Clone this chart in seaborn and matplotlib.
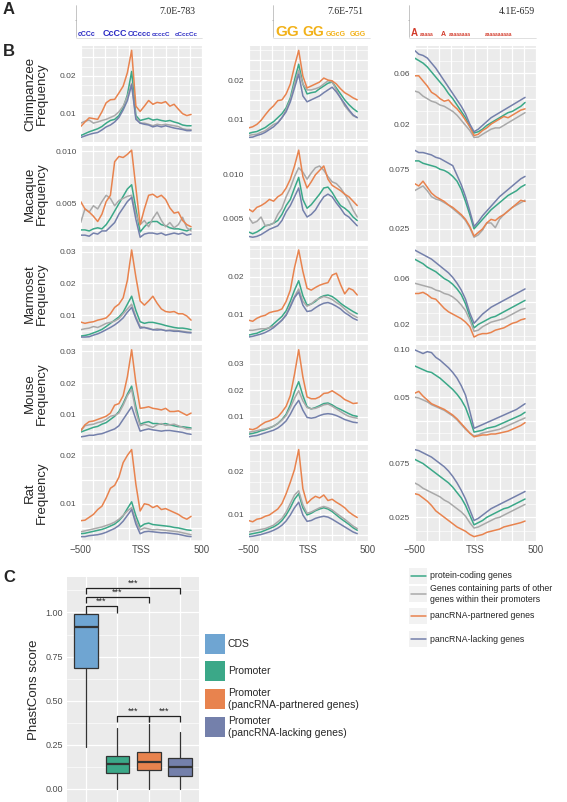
import numpy as np
import pandas as pd
import matplotlib
matplotlib.use("Agg")
import matplotlib.pyplot as plt
from matplotlib.patches import Rectangle
import seaborn as sns

sns.set_style("darkgrid", {"axes.facecolor": "#EBEBEB", "grid.color": "white"})
plt.rcParams["font.family"] = ["Liberation Sans", "DejaVu Sans"]

W, H = 567, 802

# positions of the profile points (bp from TSS)
pos = [-500, -465, -430, -395, -360, -325, -290, -255, -220, -185, -150, -115, -80, -45,
       -10, 25, 60, 95, 130, 165, 200, 235, 270, 305, 340, 375, 410]

species = ["Chimpanzee", "Macaque", "Marmoset", "Mouse", "Rat"]
groups = ["protein-coding genes",
          "Genes containing parts of other\ngenes within their promoters",
          "pancRNA-partnered genes",
          "pancRNA-lacking genes"]
line_colors = ["#3BA888", "#A9A9A9", "#E8834E", "#7480AB"]
e_values = ["7.0E-783", "7.6E-751", "4.1E-659"]

# ---- motif 1 (C-rich) ----
chimp1_coding = [0.0042, 0.0047, 0.0052, 0.0056, 0.0060, 0.0066, 0.0075, 0.0082, 0.0085, 0.0095, 0.0115, 0.0150, 0.0212, 0.0095,
                 0.0082, 0.0085, 0.0088, 0.0083, 0.0085, 0.0082, 0.0080, 0.0082, 0.0078, 0.0075, 0.0070, 0.0068, 0.0068]
chimp1_other = [0.0075, 0.0080, 0.0083, 0.0075, 0.0078, 0.0082, 0.0085, 0.0090, 0.0095, 0.0105, 0.0120, 0.0145, 0.0180, 0.0090,
                0.0075, 0.0075, 0.0072, 0.0068, 0.0072, 0.0070, 0.0072, 0.0070, 0.0068, 0.0066, 0.0060, 0.0058, 0.0058]
chimp1_partnered = [0.0066, 0.0078, 0.0089, 0.0087, 0.0085, 0.0105, 0.0129, 0.0137, 0.0138, 0.0155, 0.0173, 0.0209, 0.0268, 0.0120,
                    0.0106, 0.0120, 0.0135, 0.0125, 0.0130, 0.0128, 0.0132, 0.0120, 0.0125, 0.0112, 0.0100, 0.0095, 0.0098]
chimp1_lacking = [0.0037, 0.0041, 0.0045, 0.0048, 0.0050, 0.0057, 0.0065, 0.0070, 0.0078, 0.0090, 0.0110, 0.0135, 0.0177, 0.0085,
                  0.0075, 0.0072, 0.0070, 0.0065, 0.0068, 0.0065, 0.0068, 0.0065, 0.0062, 0.0060, 0.0058, 0.0055, 0.0055]

macaque1_coding = [0.0025, 0.0025, 0.0024, 0.0026, 0.0027, 0.0026, 0.0030, 0.0036, 0.0043, 0.0050, 0.0057, 0.0064, 0.0068, 0.0045,
                   0.0023, 0.0028, 0.0032, 0.0033, 0.0033, 0.0030, 0.0029, 0.0027, 0.0026, 0.0026, 0.0025, 0.0024, 0.0026]
macaque1_other = [0.0032, 0.0045, 0.0042, 0.0048, 0.0045, 0.0052, 0.0058, 0.0055, 0.0048, 0.0053, 0.0055, 0.0057, 0.0058, 0.0040,
                  0.0030, 0.0034, 0.0028, 0.0036, 0.0042, 0.0034, 0.0028, 0.0032, 0.0027, 0.0030, 0.0037, 0.0027, 0.0024]
macaque1_partnered = [0.0052, 0.0045, 0.0042, 0.0038, 0.0033, 0.0040, 0.0052, 0.0058, 0.0090, 0.0095, 0.0094, 0.0097, 0.0101, 0.0065,
                      0.0030, 0.0045, 0.0058, 0.0059, 0.0056, 0.0058, 0.0054, 0.0046, 0.0041, 0.0042, 0.0034, 0.0030, 0.0028]
macaque1_lacking = [0.0020, 0.0020, 0.0019, 0.0022, 0.0021, 0.0024, 0.0024, 0.0028, 0.0032, 0.0040, 0.0046, 0.0052, 0.0056, 0.0035,
                    0.0018, 0.0021, 0.0022, 0.0022, 0.0021, 0.0022, 0.0020, 0.0021, 0.0022, 0.0021, 0.0022, 0.0020, 0.0021]

marmoset1_coding = [0.0035, 0.0037, 0.0040, 0.0045, 0.0050, 0.0056, 0.0065, 0.0075, 0.0085, 0.0095, 0.0110, 0.0135, 0.0160, 0.0115,
                    0.0080, 0.0075, 0.0078, 0.0078, 0.0075, 0.0072, 0.0068, 0.0065, 0.0062, 0.0060, 0.0060, 0.0058, 0.0055]
marmoset1_other = [0.0055, 0.0058, 0.0060, 0.0065, 0.0062, 0.0068, 0.0075, 0.0078, 0.0082, 0.0090, 0.0105, 0.0120, 0.0135, 0.0095,
                   0.0065, 0.0062, 0.0060, 0.0055, 0.0058, 0.0056, 0.0052, 0.0054, 0.0053, 0.0052, 0.0050, 0.0048, 0.0047]
marmoset1_partnered = [0.0079, 0.0075, 0.0078, 0.0080, 0.0085, 0.0088, 0.0092, 0.0105, 0.0125, 0.0135, 0.0155, 0.0210, 0.0305, 0.0220,
                       0.0145, 0.0132, 0.0145, 0.0160, 0.0138, 0.0120, 0.0112, 0.0110, 0.0112, 0.0105, 0.0105, 0.0098, 0.0085]
marmoset1_lacking = [0.0032, 0.0032, 0.0033, 0.0038, 0.0042, 0.0048, 0.0055, 0.0062, 0.0070, 0.0080, 0.0092, 0.0110, 0.0125, 0.0090,
                     0.0060, 0.0062, 0.0058, 0.0055, 0.0054, 0.0055, 0.0052, 0.0052, 0.0050, 0.0050, 0.0048, 0.0046, 0.0045]

mouse1_coding = [0.0045, 0.0050, 0.0055, 0.0060, 0.0063, 0.0070, 0.0075, 0.0085, 0.0095, 0.0110, 0.0135, 0.0165, 0.0190, 0.0125,
                 0.0070, 0.0075, 0.0078, 0.0072, 0.0072, 0.0070, 0.0072, 0.0068, 0.0065, 0.0062, 0.0062, 0.0060, 0.0058]
mouse1_other = [0.0048, 0.0065, 0.0068, 0.0070, 0.0075, 0.0078, 0.0085, 0.0095, 0.0098, 0.0105, 0.0130, 0.0160, 0.0180, 0.0110,
                0.0065, 0.0070, 0.0065, 0.0060, 0.0068, 0.0072, 0.0066, 0.0068, 0.0070, 0.0065, 0.0060, 0.0055, 0.0055]
mouse1_partnered = [0.0050, 0.0068, 0.0078, 0.0080, 0.0085, 0.0090, 0.0095, 0.0105, 0.0130, 0.0135, 0.0160, 0.0220, 0.0305, 0.0200,
                    0.0120, 0.0122, 0.0125, 0.0120, 0.0118, 0.0115, 0.0120, 0.0110, 0.0110, 0.0112, 0.0105, 0.0098, 0.0105]
mouse1_lacking = [0.0030, 0.0032, 0.0035, 0.0035, 0.0038, 0.0040, 0.0045, 0.0050, 0.0055, 0.0065, 0.0085, 0.0105, 0.0125, 0.0085,
                  0.0048, 0.0052, 0.0055, 0.0052, 0.0050, 0.0048, 0.0050, 0.0050, 0.0048, 0.0046, 0.0044, 0.0040, 0.0038]

rat1_coding = [0.0038, 0.0039, 0.0041, 0.0043, 0.0045, 0.0047, 0.0050, 0.0054, 0.0058, 0.0065, 0.0075, 0.0090, 0.0104, 0.0075,
               0.0052, 0.0058, 0.0060, 0.0057, 0.0056, 0.0055, 0.0054, 0.0053, 0.0051, 0.0050, 0.0048, 0.0046, 0.0045]
rat1_other = [0.0042, 0.0044, 0.0046, 0.0048, 0.0050, 0.0052, 0.0055, 0.0058, 0.0062, 0.0068, 0.0076, 0.0085, 0.0092, 0.0065,
              0.0046, 0.0050, 0.0048, 0.0046, 0.0047, 0.0046, 0.0045, 0.0044, 0.0043, 0.0042, 0.0040, 0.0038, 0.0036]
rat1_partnered = [0.0065, 0.0066, 0.0072, 0.0078, 0.0088, 0.0095, 0.0112, 0.0132, 0.0138, 0.0155, 0.0185, 0.0200, 0.0212, 0.0140,
                  0.0085, 0.0100, 0.0098, 0.0092, 0.0096, 0.0088, 0.0090, 0.0086, 0.0082, 0.0078, 0.0072, 0.0068, 0.0074]
rat1_lacking = [0.0032, 0.0032, 0.0034, 0.0035, 0.0036, 0.0038, 0.0041, 0.0045, 0.0049, 0.0055, 0.0064, 0.0076, 0.0088, 0.0058,
                0.0038, 0.0042, 0.0043, 0.0042, 0.0041, 0.0040, 0.0040, 0.0039, 0.0038, 0.0037, 0.0035, 0.0033, 0.0032]

# ---- motif 2 (G-rich) ----
chimp2_coding = [0.0065, 0.0068, 0.0070, 0.0075, 0.0080, 0.0088, 0.0095, 0.0105, 0.0115, 0.0130, 0.0155, 0.0200, 0.0240, 0.0190,
                 0.0165, 0.0168, 0.0170, 0.0178, 0.0185, 0.0192, 0.0195, 0.0180, 0.0165, 0.0150, 0.0138, 0.0128, 0.0120]
chimp2_other = [0.0060, 0.0062, 0.0063, 0.0068, 0.0072, 0.0080, 0.0088, 0.0092, 0.0105, 0.0125, 0.0150, 0.0190, 0.0225, 0.0190,
                0.0175, 0.0175, 0.0178, 0.0182, 0.0190, 0.0198, 0.0195, 0.0175, 0.0155, 0.0135, 0.0122, 0.0110, 0.0105]
chimp2_partnered = [0.0079, 0.0082, 0.0088, 0.0098, 0.0112, 0.0125, 0.0135, 0.0148, 0.0150, 0.0165, 0.0190, 0.0235, 0.0275, 0.0210,
                    0.0180, 0.0185, 0.0190, 0.0195, 0.0205, 0.0200, 0.0198, 0.0190, 0.0178, 0.0168, 0.0162, 0.0155, 0.0150]
chimp2_lacking = [0.0055, 0.0056, 0.0060, 0.0063, 0.0068, 0.0075, 0.0082, 0.0092, 0.0105, 0.0120, 0.0145, 0.0180, 0.0215, 0.0160,
                  0.0145, 0.0150, 0.0155, 0.0160, 0.0168, 0.0175, 0.0182, 0.0170, 0.0155, 0.0140, 0.0125, 0.0112, 0.0105]

macaque2_coding = [0.0035, 0.0033, 0.0035, 0.0038, 0.0042, 0.0043, 0.0045, 0.0048, 0.0055, 0.0065, 0.0072, 0.0085, 0.0097, 0.0072,
                   0.0062, 0.0066, 0.0072, 0.0078, 0.0085, 0.0086, 0.0080, 0.0072, 0.0065, 0.0062, 0.0058, 0.0052, 0.0048]
macaque2_other = [0.0052, 0.0045, 0.0047, 0.0052, 0.0042, 0.0043, 0.0045, 0.0055, 0.0062, 0.0075, 0.0085, 0.0098, 0.0108, 0.0103,
                  0.0095, 0.0102, 0.0108, 0.0110, 0.0105, 0.0098, 0.0092, 0.0090, 0.0085, 0.0078, 0.0070, 0.0060, 0.0052]
macaque2_partnered = [0.0061, 0.0058, 0.0063, 0.0065, 0.0068, 0.0072, 0.0070, 0.0075, 0.0078, 0.0085, 0.0095, 0.0110, 0.0128, 0.0098,
                      0.0085, 0.0092, 0.0100, 0.0105, 0.0110, 0.0095, 0.0088, 0.0085, 0.0082, 0.0078, 0.0075, 0.0070, 0.0065]
macaque2_lacking = [0.0030, 0.0029, 0.0030, 0.0032, 0.0035, 0.0038, 0.0040, 0.0042, 0.0048, 0.0058, 0.0065, 0.0075, 0.0085, 0.0060,
                    0.0052, 0.0055, 0.0060, 0.0068, 0.0075, 0.0078, 0.0075, 0.0068, 0.0062, 0.0055, 0.0052, 0.0047, 0.0042]

marmoset2_coding = [0.0045, 0.0048, 0.0050, 0.0055, 0.0060, 0.0065, 0.0075, 0.0085, 0.0095, 0.0110, 0.0135, 0.0165, 0.0190, 0.0150,
                    0.0125, 0.0128, 0.0135, 0.0145, 0.0150, 0.0152, 0.0148, 0.0140, 0.0130, 0.0122, 0.0115, 0.0108, 0.0102]
marmoset2_other = [0.0058, 0.0058, 0.0060, 0.0062, 0.0062, 0.0065, 0.0068, 0.0075, 0.0085, 0.0100, 0.0125, 0.0148, 0.0168, 0.0135,
                   0.0122, 0.0128, 0.0138, 0.0143, 0.0148, 0.0145, 0.0140, 0.0132, 0.0125, 0.0115, 0.0105, 0.0098, 0.0092]
marmoset2_partnered = [0.0085, 0.0082, 0.0090, 0.0095, 0.0098, 0.0105, 0.0108, 0.0110, 0.0115, 0.0135, 0.0165, 0.0225, 0.0272, 0.0215,
                       0.0170, 0.0165, 0.0172, 0.0178, 0.0182, 0.0185, 0.0205, 0.0210, 0.0180, 0.0155, 0.0170, 0.0165, 0.0152]
marmoset2_lacking = [0.0040, 0.0042, 0.0045, 0.0048, 0.0052, 0.0058, 0.0065, 0.0075, 0.0085, 0.0098, 0.0120, 0.0145, 0.0160, 0.0125,
                     0.0108, 0.0110, 0.0118, 0.0125, 0.0130, 0.0132, 0.0128, 0.0122, 0.0115, 0.0105, 0.0098, 0.0090, 0.0085]

mouse2_coding = [0.0035, 0.0038, 0.0042, 0.0048, 0.0052, 0.0058, 0.0065, 0.0075, 0.0090, 0.0110, 0.0145, 0.0195, 0.0232, 0.0180,
                 0.0138, 0.0130, 0.0135, 0.0142, 0.0150, 0.0152, 0.0145, 0.0135, 0.0128, 0.0120, 0.0112, 0.0105, 0.0102]
mouse2_other = [0.0042, 0.0045, 0.0048, 0.0052, 0.0055, 0.0060, 0.0065, 0.0075, 0.0088, 0.0105, 0.0135, 0.0170, 0.0198, 0.0160,
                0.0135, 0.0130, 0.0132, 0.0138, 0.0145, 0.0148, 0.0140, 0.0130, 0.0120, 0.0110, 0.0102, 0.0098, 0.0095]
mouse2_partnered = [0.0055, 0.0052, 0.0058, 0.0070, 0.0080, 0.0085, 0.0092, 0.0100, 0.0118, 0.0140, 0.0180, 0.0260, 0.0352, 0.0250,
                    0.0175, 0.0168, 0.0168, 0.0175, 0.0188, 0.0190, 0.0198, 0.0188, 0.0178, 0.0165, 0.0158, 0.0150, 0.0152]
mouse2_lacking = [0.0025, 0.0028, 0.0030, 0.0035, 0.0040, 0.0045, 0.0050, 0.0058, 0.0070, 0.0085, 0.0110, 0.0140, 0.0162, 0.0125,
                  0.0098, 0.0095, 0.0098, 0.0105, 0.0110, 0.0112, 0.0110, 0.0105, 0.0098, 0.0090, 0.0085, 0.0080, 0.0078]

rat2_coding = [0.0052, 0.0054, 0.0056, 0.0058, 0.0062, 0.0066, 0.0070, 0.0076, 0.0085, 0.0098, 0.0115, 0.0135, 0.0148, 0.0115,
               0.0098, 0.0102, 0.0108, 0.0112, 0.0115, 0.0112, 0.0106, 0.0098, 0.0090, 0.0083, 0.0076, 0.0068, 0.0062]
rat2_other = [0.0058, 0.0060, 0.0062, 0.0064, 0.0066, 0.0070, 0.0074, 0.0082, 0.0090, 0.0105, 0.0125, 0.0145, 0.0155, 0.0122,
              0.0102, 0.0105, 0.0110, 0.0115, 0.0118, 0.0115, 0.0110, 0.0102, 0.0095, 0.0088, 0.0080, 0.0072, 0.0066]
rat2_partnered = [0.0085, 0.0082, 0.0088, 0.0090, 0.0095, 0.0098, 0.0105, 0.0112, 0.0125, 0.0148, 0.0175, 0.0205, 0.0252, 0.0160,
                  0.0125, 0.0135, 0.0142, 0.0138, 0.0145, 0.0132, 0.0135, 0.0128, 0.0122, 0.0115, 0.0105, 0.0098, 0.0092]
rat2_lacking = [0.0047, 0.0048, 0.0050, 0.0052, 0.0055, 0.0058, 0.0062, 0.0067, 0.0074, 0.0084, 0.0098, 0.0115, 0.0128, 0.0098,
                0.0083, 0.0085, 0.0090, 0.0093, 0.0095, 0.0093, 0.0088, 0.0082, 0.0076, 0.0070, 0.0064, 0.0058, 0.0054]

# ---- motif 3 (A-rich) ----
chimp3_coding = [0.072, 0.070, 0.068, 0.065, 0.061, 0.057, 0.053, 0.049, 0.044, 0.040, 0.035, 0.030, 0.025, 0.018,
                 0.013, 0.014, 0.016, 0.019, 0.021, 0.023, 0.025, 0.027, 0.029, 0.030, 0.032, 0.034, 0.037]
chimp3_other = [0.046, 0.045, 0.042, 0.040, 0.038, 0.037, 0.035, 0.034, 0.032, 0.030, 0.027, 0.023, 0.019, 0.015,
                0.0095, 0.0098, 0.012, 0.014, 0.016, 0.017, 0.017, 0.019, 0.021, 0.023, 0.025, 0.027, 0.029]
chimp3_partnered = [0.058, 0.058, 0.054, 0.050, 0.045, 0.043, 0.040, 0.038, 0.039, 0.035, 0.032, 0.028, 0.023, 0.018,
                    0.011, 0.012, 0.015, 0.017, 0.020, 0.022, 0.024, 0.026, 0.025, 0.027, 0.029, 0.031, 0.032]
chimp3_lacking = [0.078, 0.075, 0.074, 0.072, 0.068, 0.064, 0.059, 0.054, 0.049, 0.044, 0.039, 0.034, 0.028, 0.020,
                  0.014, 0.016, 0.019, 0.022, 0.025, 0.027, 0.029, 0.031, 0.033, 0.035, 0.037, 0.039, 0.041]

macaque3_coding = [0.082, 0.082, 0.080, 0.079, 0.078, 0.077, 0.075, 0.074, 0.072, 0.069, 0.065, 0.058, 0.048, 0.037,
                   0.025, 0.029, 0.033, 0.037, 0.041, 0.044, 0.047, 0.050, 0.053, 0.055, 0.057, 0.060, 0.062]
macaque3_other = [0.057, 0.059, 0.061, 0.057, 0.052, 0.050, 0.049, 0.047, 0.045, 0.042, 0.039, 0.036, 0.032, 0.026,
                  0.018, 0.020, 0.024, 0.030, 0.030, 0.026, 0.033, 0.037, 0.040, 0.043, 0.045, 0.047, 0.049]
macaque3_partnered = [0.063, 0.061, 0.065, 0.060, 0.055, 0.052, 0.050, 0.048, 0.045, 0.043, 0.040, 0.037, 0.033, 0.027,
                      0.019, 0.022, 0.025, 0.030, 0.033, 0.032, 0.035, 0.037, 0.040, 0.043, 0.046, 0.049, 0.048]
macaque3_lacking = [0.091, 0.089, 0.089, 0.088, 0.087, 0.085, 0.084, 0.082, 0.080, 0.078, 0.070, 0.062, 0.052, 0.040,
                    0.027, 0.031, 0.036, 0.040, 0.044, 0.048, 0.052, 0.055, 0.058, 0.061, 0.064, 0.067, 0.069]

marmoset3_coding = [0.077, 0.075, 0.073, 0.070, 0.068, 0.066, 0.063, 0.060, 0.058, 0.055, 0.051, 0.046, 0.038, 0.027,
                    0.017, 0.020, 0.022, 0.024, 0.026, 0.027, 0.029, 0.031, 0.033, 0.035, 0.037, 0.039, 0.041]
marmoset3_other = [0.056, 0.055, 0.054, 0.053, 0.052, 0.050, 0.049, 0.047, 0.046, 0.044, 0.041, 0.037, 0.032, 0.024,
                   0.014, 0.015, 0.018, 0.020, 0.022, 0.023, 0.024, 0.025, 0.027, 0.029, 0.031, 0.033, 0.034]
marmoset3_partnered = [0.047, 0.047, 0.048, 0.046, 0.043, 0.042, 0.038, 0.034, 0.031, 0.029, 0.027, 0.025, 0.022, 0.018,
                       0.009, 0.011, 0.012, 0.012, 0.013, 0.015, 0.016, 0.017, 0.019, 0.021, 0.022, 0.024, 0.025]
marmoset3_lacking = [0.085, 0.083, 0.081, 0.079, 0.077, 0.074, 0.071, 0.068, 0.065, 0.061, 0.056, 0.050, 0.042, 0.030,
                     0.021, 0.025, 0.029, 0.032, 0.035, 0.037, 0.039, 0.041, 0.043, 0.045, 0.047, 0.049, 0.051]

mouse3_coding = [0.083, 0.081, 0.079, 0.077, 0.076, 0.073, 0.070, 0.066, 0.062, 0.058, 0.053, 0.047, 0.039, 0.027,
                 0.013, 0.014, 0.015, 0.017, 0.018, 0.019, 0.021, 0.023, 0.025, 0.027, 0.029, 0.031, 0.034]
mouse3_other = [0.050, 0.049, 0.047, 0.045, 0.042, 0.040, 0.038, 0.036, 0.033, 0.030, 0.026, 0.021, 0.016, 0.012,
                0.009, 0.010, 0.012, 0.013, 0.014, 0.015, 0.016, 0.018, 0.020, 0.022, 0.024, 0.026, 0.028]
mouse3_partnered = [0.054, 0.056, 0.051, 0.047, 0.043, 0.041, 0.039, 0.037, 0.034, 0.031, 0.027, 0.022, 0.017, 0.012,
                    0.008, 0.009, 0.010, 0.010, 0.011, 0.011, 0.012, 0.013, 0.014, 0.016, 0.018, 0.020, 0.023]
mouse3_lacking = [0.100, 0.098, 0.096, 0.098, 0.097, 0.092, 0.089, 0.085, 0.081, 0.076, 0.070, 0.062, 0.052, 0.035,
                  0.017, 0.019, 0.021, 0.023, 0.025, 0.027, 0.029, 0.031, 0.033, 0.035, 0.037, 0.040, 0.043]

rat3_coding = [0.079, 0.077, 0.075, 0.072, 0.069, 0.066, 0.063, 0.060, 0.057, 0.053, 0.048, 0.043, 0.036, 0.027,
               0.018, 0.020, 0.022, 0.025, 0.027, 0.029, 0.031, 0.033, 0.034, 0.036, 0.038, 0.040, 0.042]
rat3_other = [0.057, 0.055, 0.052, 0.050, 0.048, 0.046, 0.044, 0.041, 0.039, 0.036, 0.033, 0.030, 0.026, 0.020,
              0.015, 0.016, 0.018, 0.020, 0.022, 0.024, 0.025, 0.027, 0.029, 0.031, 0.033, 0.035, 0.037]
rat3_partnered = [0.047, 0.046, 0.043, 0.040, 0.036, 0.031, 0.028, 0.025, 0.022, 0.019, 0.016, 0.014, 0.012, 0.009,
                  0.007, 0.008, 0.009, 0.011, 0.012, 0.013, 0.014, 0.016, 0.017, 0.018, 0.019, 0.020, 0.0215]
rat3_lacking = [0.088, 0.087, 0.085, 0.083, 0.081, 0.078, 0.075, 0.072, 0.068, 0.063, 0.057, 0.050, 0.042, 0.032,
                0.022, 0.024, 0.027, 0.030, 0.033, 0.035, 0.037, 0.039, 0.041, 0.043, 0.045, 0.047, 0.049]

# ---- panel C: PhastCons box statistics ----
box_labels = ["CDS", "Promoter", "Promoter\n(pancRNA-partnered genes)", "Promoter\n(pancRNA-lacking genes)"]
box_low = [0.236, 0.0, 0.0, 0.0]
box_q1 = [0.688, 0.089, 0.107, 0.075]
box_med = [0.917, 0.140, 0.154, 0.126]
box_q3 = [0.989, 0.188, 0.211, 0.177]
box_high = [1.0, 0.343, 0.367, 0.324]
box_colors = ["#6FA5D2", "#3BA888", "#E8834E", "#7480AB"]

profiles = {
    ("Chimpanzee", 0): [chimp1_coding, chimp1_other, chimp1_partnered, chimp1_lacking],
    ("Chimpanzee", 1): [chimp2_coding, chimp2_other, chimp2_partnered, chimp2_lacking],
    ("Chimpanzee", 2): [chimp3_coding, chimp3_other, chimp3_partnered, chimp3_lacking],
    ("Macaque", 0): [macaque1_coding, macaque1_other, macaque1_partnered, macaque1_lacking],
    ("Macaque", 1): [macaque2_coding, macaque2_other, macaque2_partnered, macaque2_lacking],
    ("Macaque", 2): [macaque3_coding, macaque3_other, macaque3_partnered, macaque3_lacking],
    ("Marmoset", 0): [marmoset1_coding, marmoset1_other, marmoset1_partnered, marmoset1_lacking],
    ("Marmoset", 1): [marmoset2_coding, marmoset2_other, marmoset2_partnered, marmoset2_lacking],
    ("Marmoset", 2): [marmoset3_coding, marmoset3_other, marmoset3_partnered, marmoset3_lacking],
    ("Mouse", 0): [mouse1_coding, mouse1_other, mouse1_partnered, mouse1_lacking],
    ("Mouse", 1): [mouse2_coding, mouse2_other, mouse2_partnered, mouse2_lacking],
    ("Mouse", 2): [mouse3_coding, mouse3_other, mouse3_partnered, mouse3_lacking],
    ("Rat", 0): [rat1_coding, rat1_other, rat1_partnered, rat1_lacking],
    ("Rat", 1): [rat2_coding, rat2_other, rat2_partnered, rat2_lacking],
    ("Rat", 2): [rat3_coding, rat3_other, rat3_partnered, rat3_lacking],
}

# y tick step and which ticks carry a label, per (row, col)
ytick_specs = {
    (0, 0): (0.005, ["0.01", "0.02"]), (0, 1): (0.005, ["0.01", "0.02"]), (0, 2): (0.02, ["0.02", "0.06"]),
    (1, 0): (0.0025, ["0.005", "0.010"]), (1, 1): (0.0025, ["0.005", "0.010"]), (1, 2): (0.025, ["0.025", "0.075"]),
    (2, 0): (0.01, ["0.01", "0.02", "0.03"]), (2, 1): (0.005, ["0.01", "0.02"]), (2, 2): (0.02, ["0.02", "0.06"]),
    (3, 0): (0.01, ["0.01", "0.02", "0.03"]), (3, 1): (0.01, ["0.01", "0.02", "0.03"]), (3, 2): (0.025, ["0.05", "0.10"]),
    (4, 0): (0.005, ["0.01", "0.02"]), (4, 1): (0.005, ["0.01", "0.02"]), (4, 2): (0.025, ["0.025", "0.075"]),
}

# ---- layout (pixels) ----
col_x = [(80.7, 202.0), (248.5, 368.0), (414.5, 536.0)]
row_y = [(46, 141.8), (145.8, 241.6), (245.6, 341.4), (345.4, 441.2), (445.2, 541)]
TXT = "#4D4D4D"
TICK = "#333333"

fig = plt.figure(figsize=(W / 100, H / 100), dpi=100)


def add_px_axes(x0, y0, x1, y1):
    return fig.add_axes([x0 / W, 1 - y1 / H, (x1 - x0) / W, (y1 - y0) / H])


def fig_text(x, y, s, **kw):
    fig.text(x / W, 1 - y / H, s, **kw)


for r, sp in enumerate(species):
    for c in range(3):
        x0, x1 = col_x[c]
        y0, y1 = row_y[r]
        ax = add_px_axes(x0, y0, x1, y1)
        series = profiles[(sp, c)]
        df = pd.DataFrame({
            "pos": pos * 4,
            "freq": sum(series, []),
            "group": np.repeat(groups, len(pos)),
        })
        sns.lineplot(data=df, x="pos", y="freq", hue="group", hue_order=groups,
                     palette=line_colors, legend=False, estimator=None,
                     linewidth=1.1, ax=ax)

        allv = np.concatenate(series)
        pad = 0.05 * (allv.max() - allv.min())
        lo, hi = allv.min() - pad, allv.max() + pad
        ax.set_ylim(lo, hi)
        step, labelled = ytick_specs[(r, c)]
        ticks = np.round(np.arange(np.ceil(lo / step - 1e-9) * step, hi, step), 6)
        ax.set_yticks(ticks)
        ax.set_yticklabels([next((l for l in labelled if abs(float(l) - t) < 1e-9), "") for t in ticks])
        minors = [t + step / 2 for t in np.append(ticks[0] - step, ticks) if lo < t + step / 2 < hi]
        ax.set_yticks(minors, minor=True)

        ax.set_xlim(-500, 500)
        ax.set_xticks(range(-500, 501, 100))
        if r == len(species) - 1:
            ax.set_xticklabels(["\u2212500", "", "", "", "", "TSS", "", "", "", "", "500"])
        else:
            ax.set_xticklabels([])
        ax.set_xlabel("")
        ax.set_ylabel("")
        ax.grid(which="major", color="white", linewidth=0.9)
        ax.grid(which="minor", axis="y", color="white", linewidth=0.45)
        ax.tick_params(which="major", length=2, width=0.5, color=TICK, pad=1)
        ax.tick_params(which="minor", length=0)
        ax.tick_params(axis="y", labelsize=6, labelcolor=TXT)
        ax.tick_params(axis="x", labelsize=7, labelcolor=TXT)
        for s in ax.spines.values():
            s.set_visible(False)

    yc = (row_y[r][0] + row_y[r][1]) / 2
    fig_text(36, yc, sp + "\nFrequency", rotation=90, ha="center", va="center",
             fontsize=9.5, linespacing=1.0)

# ---- panel C ----
bax = add_px_axes(67, 577, 199, 802)
stats = [dict(whislo=box_low[i], q1=box_q1[i], med=box_med[i], q3=box_q3[i],
              whishi=box_high[i], label=box_labels[i]) for i in range(4)]
bp = bax.bxp(stats, positions=range(4), widths=0.75, showfliers=False, patch_artist=True,
             boxprops=dict(linewidth=0.9, edgecolor=TICK),
             medianprops=dict(color=TICK, linewidth=1.6),
             whiskerprops=dict(color=TICK, linewidth=0.9),
             capprops=dict(linewidth=0))
for patch, col in zip(bp["boxes"], box_colors):
    patch.set_facecolor(col)
bax.set_xlim(-0.6, 3.6)
bax.set_ylim(-0.0737, 1.201)
bax.set_xticks(range(4))
bax.set_xticklabels([])
bax.set_yticks([0, 0.25, 0.5, 0.75, 1.0])
bax.set_yticklabels(["0.00", "0.25", "0.50", "0.75", "1.00"])
bax.set_yticks([0.125, 0.375, 0.625, 0.875, 1.125], minor=True)
bax.grid(which="major", color="white", linewidth=0.9)
bax.grid(which="minor", axis="y", color="white", linewidth=0.45)
bax.tick_params(axis="x", length=0)
bax.tick_params(axis="y", which="major", length=2, width=0.5, color=TICK, pad=1,
                labelsize=6.5, labelcolor=TXT)
bax.tick_params(which="minor", length=0)
for s in bax.spines.values():
    s.set_visible(False)
bax.set_ylabel("PhastCons score", fontsize=9.5, labelpad=4)

# significance brackets
sig_pairs = [(0, 3, 1.139), (0, 2, 1.086), (0, 1, 1.034), (1, 2, 0.412), (2, 3, 0.412)]
for a, b, yb in sig_pairs:
    bax.plot([a, a, b, b], [yb - 0.035, yb, yb, yb - 0.035], color="#222222", lw=0.9,
             clip_on=False, solid_capstyle="butt")
    bax.text((a + b) / 2, yb + 0.004, "***", ha="center", va="bottom", fontsize=6.5,
             color="#222222")

# ---- overlay for labels, legends and logos ----
ov = fig.add_axes([0, 0, 1, 1])
ov.set_xlim(0, W)
ov.set_ylim(H, 0)
ov.axis("off")
ov.patch.set_visible(False)

for lab, y in [("A", 9), ("B", 51), ("C", 577)]:
    ov.text(3, y, lab, fontsize=12, fontweight="bold", va="center", ha="left")

# line legend
leg_y = [576, 594, 616, 639]
for g, col, y in zip(groups, line_colors, leg_y):
    ov.add_patch(Rectangle((409, y - 8), 18, 16, facecolor="#F2F2F2", edgecolor="none"))
    ov.plot([410.5, 425.5], [y, y], color=col, lw=1.1)
    ov.text(430, y, g, fontsize=6.3, va="center", ha="left", linespacing=1.3)

# box legend
box_leg_y = [644, 671, 699, 727]
for lab, col, y in zip(box_labels, box_colors, box_leg_y):
    ov.add_patch(Rectangle((205, y - 10), 20, 20, facecolor=col, edgecolor="none"))
    ov.text(228, y, lab, fontsize=7.5, va="center", ha="left", linespacing=1.35)

# motif logos (panel A): (x, letters, font size, colour)
C_BLUE, G_YEL, A_RED = "#2B2BC4", "#F2B118", "#D23A2A"
logo_words = [
    (78, "cCCc", 5, C_BLUE), (103, "CcCC", 6.5, C_BLUE), (128, "CCccc", 5.5, C_BLUE),
    (152, "ccccC", 4.5, C_BLUE), (175, "cCccCc", 4.5, C_BLUE),
    (275, "GG", 11, G_YEL), (302, "GG", 10, G_YEL), (326, "GGcG", 5, G_YEL), (350, "GGG", 5, G_YEL),
    (411, "A", 7, A_RED), (420, "aaaaa", 3.5, A_RED), (441, "A", 5, A_RED),
    (449, "aaaaaaaa", 3.5, A_RED), (485, "aaaaaaaaaa", 3.5, A_RED),
]
for x, word, size, col in logo_words:
    ov.text(x, 36.5, word, fontsize=size, color=col, ha="left", va="baseline",
            fontweight="bold")
for ex, x_end in [(76, 202), (273, 370), (409, 536)]:
    ov.plot([ex, ex], [5, 36.5], color="#9A9A9A", lw=0.4)
    ov.plot([ex - 1.5, ex], [20, 20], color="#9A9A9A", lw=0.4)
    ov.plot([ex, x_end], [37.5, 37.5], color="#C8C8C8", lw=0.4)
for x, ev in zip([177, 345, 517], e_values):
    ov.text(x, 11, ev, fontsize=7, ha="center", va="center",
            family=["Liberation Serif", "DejaVu Serif"])

fig.savefig("out.png", dpi=100)
